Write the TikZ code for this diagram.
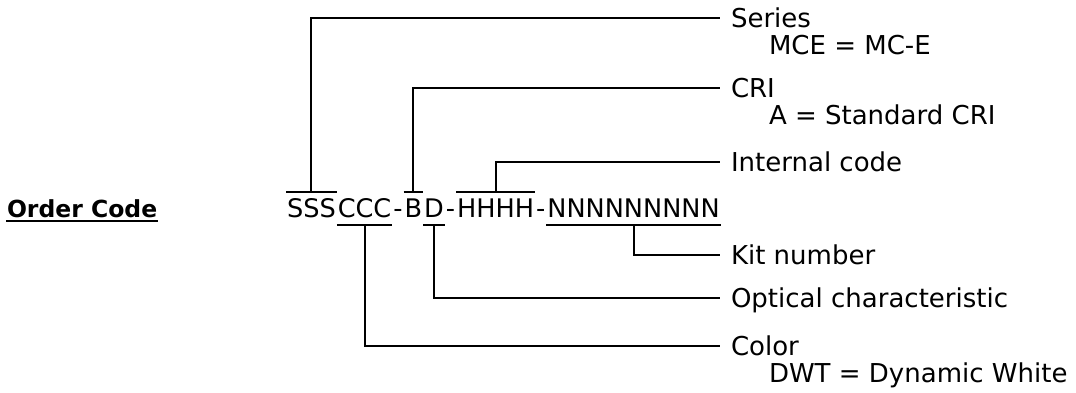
\documentclass[tikz,border=0pt]{standalone}
\usepackage{fontspec}
\setmainfont{DejaVu Sans}
\usetikzlibrary{positioning}

\begin{document}
\begin{tikzpicture}[x=1pt,y=1pt,line width=2pt]
  \tikzstyle{digits}=[anchor=base west,inner sep=0pt,text height=25pt,text depth=6pt,font=\fontsize{25.6}{28}\selectfont]
  \tikzstyle{desc}=[anchor=west,inner xsep=10pt,inner ysep=0pt,text height=19pt,text depth=0pt,font=\fontsize{26}{28}\selectfont]
  \tikzstyle{subdesc}=[anchor=base west,inner xsep=10pt,inner ysep=0pt,font=\fontsize{26}{28}\selectfont]
  \tikzstyle{heading}=[anchor=base west,inner sep=0pt,font=\fontsize{23.5}{26}\selectfont\bfseries]
  \useasboundingbox (0,0) rectangle (1076,393);

  \node[heading] (order) at (6,175) {Order Code};
  \draw ([yshift=-3pt]order.base west) -- ([yshift=-3pt]order.base east);

  % the code, one group after the other
  \node[digits] (S) at (286,175) {SSS};
  \node[digits] (C) at (S.base east) {CCC};
  \node[digits] (m1) at (C.base east) {-};
  \node[digits] (B) at (m1.base east) {B};
  \node[digits] (D) at (B.base east) {D};
  \node[digits] (m2) at (D.base east) {-};
  \node[digits] (H) at (m2.base east) {HHHH};
  \node[digits] (m3) at (H.base east) {-};
  \node[digits] (N) at (m3.base east) {NNNNNNNNN};

  % descriptions
  \node[desc] (series) at (720,375) {Series};
  \node[subdesc] (mce) at ([xshift=38pt,yshift=-27pt]series.base west) {MCE = MC-E};
  \node[desc] (cri) at (720,305) {CRI};
  \node[subdesc] (std) at ([xshift=38pt,yshift=-27pt]cri.base west) {A = Standard CRI};
  \node[desc] (internal) at (720,231) {Internal code};
  \node[desc] (kit) at (720,138) {Kit number};
  \node[desc] (optical) at (720,95) {Optical characteristic};
  \node[desc] (color) at (720,47) {Color};
  \node[subdesc] (dwt) at ([xshift=38pt,yshift=-27pt]color.base west) {DWT = Dynamic White};

  % over- and underlines
  \draw (S.north west) -- (S.north east);
  \draw (B.north west) -- (B.north east);
  \draw (H.north west) -- (H.north east);
  \draw (C.south west) -- (C.south east);
  \draw (D.south west) -- (D.south east);
  \draw (N.south west) -- (N.south east);

  % leaders
  \draw (S.north) |- (series.west);
  \draw (B.north) |- (cri.west);
  \draw (H.north) |- (internal.west);
  \draw (N.south) |- (kit.west);
  \draw (D.south) |- (optical.west);
  \draw (C.south) |- (color.west);
\end{tikzpicture}
\end{document}
